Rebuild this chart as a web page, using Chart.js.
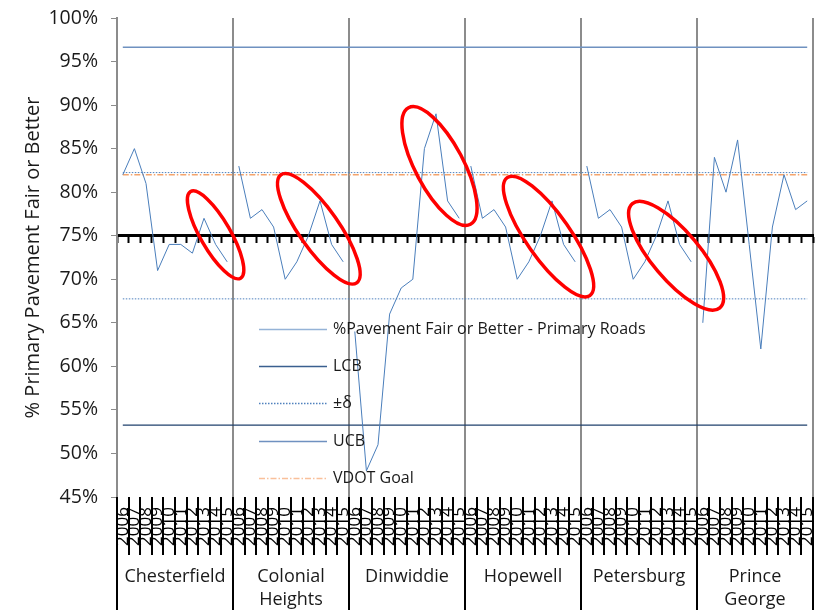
<!DOCTYPE html>
<html>
<head>
<meta charset="utf-8">
<title>Primary Pavement Fair or Better</title>
<script src="https://cdn.jsdelivr.net/npm/chart.js@4.4.1/dist/chart.umd.min.js"></script>
<style>
  html, body { margin: 0; padding: 0; background: #fff; }
</style>
</head>
<body>
<canvas id="ChartPave" width="823" height="610"></canvas>
<script>
// categories
var counties = [['Chesterfield'], ['Colonial', 'Heights'], ['Dinwiddie'], ['Hopewell'], ['Petersburg'], ['Prince', 'George']];
var years = ['2006', '2007', '2008', '2009', '2010', '2011', '2012', '2013', '2014', '2015'];

// % pavement fair or better, primary roads, one list per county
var chesterfield    = [82, 85, 81, 71, 74, 74, 73, 77, 74, 72];
var colonialHeights = [83, 77, 78, 76, 70, 72, 75, 79, 74, 72];
var dinwiddie       = [64, 48, 51, 66, 69, 70, 85, 89, 79, 77];
var hopewell        = [83, 77, 78, 76, 70, 72, 75, 79, 74, 72];
var petersburg      = [83, 77, 78, 76, 70, 72, 75, 79, 74, 72];
var princeGeorge    = [65, 84, 80, 86, 74, 62, 76, 82, 78, 79];

// reference levels
var lcbValue = 53.25;
var ucbValue = 96.65;
var deltaUpper = 82.25;
var deltaLower = 67.75;
var vdotGoal = 82;
var axisCross = 75;

// y axis ticks
var yMin = 45;
var yMax = 100;
var yStep = 5;

var labels = [];
counties.forEach(function(){ labels = labels.concat(years); });
var pavement = [].concat(chesterfield, colonialHeights, dinwiddie, hopewell, petersburg, princeGeorge);
function flat(v) { return labels.map(function(){ return v; }); }

// red circles drawn round the last years (x = category index, y = value)
var circled = [
  { x: 8.0,  y: 75.1, rx: 50, ry: 15, rot: 60 },
  { x: 16.9, y: 75.8, rx: 66, ry: 20, rot: 55 },
  { x: 27.3, y: 83.0, rx: 66, ry: 24, rot: 62 },
  { x: 36.7, y: 74.9, rx: 72, ry: 22, rot: 55 },
  { x: 47.7, y: 72.7, rx: 68, ry: 24, rot: 50 }
];

var textColor = '#1a1a1a';
Chart.defaults.font.family = "'Open Sans', sans-serif";
Chart.defaults.color = textColor;

var ellipsePlugin = {
  id: 'ellipses',
  afterDatasetsDraw: function(chart) {
    var c = chart.ctx, xs = chart.scales.x, ys = chart.scales.y;
    c.save();
    c.strokeStyle = '#ff0000';
    c.lineWidth = 3.5;
    circled.forEach(function(e){
      c.beginPath();
      c.ellipse(xs.getPixelForValue(e.x), ys.getPixelForValue(e.y), e.rx, e.ry, e.rot * Math.PI / 180, 0, Math.PI * 2);
      c.stroke();
    });
    c.restore();
  }
};

var legendPlugin = {
  id: 'innerLegend',
  afterDatasetsDraw: function(chart) {
    var c = chart.ctx;
    var x0 = 259, y0 = 329, step = 37.2;
    c.save();
    c.font = "16px 'Open Sans', sans-serif";
    c.textBaseline = 'middle';
    c.fillStyle = textColor;
    var row = 0;
    chart.data.datasets.forEach(function(ds){
      if (ds.noLegend) return;
      var y = Math.round(y0 + row * step) + 0.5;
      c.beginPath();
      c.strokeStyle = ds.legendColor || ds.borderColor;
      c.lineWidth = Math.max(ds.borderWidth, 1.5);
      c.setLineDash(ds.borderDash || []);
      c.moveTo(x0, y);
      c.lineTo(x0 + 68, y);
      c.stroke();
      c.setLineDash([]);
      c.fillText(ds.label, x0 + 74, y);
      row++;
    });
    c.restore();
  }
};

var countyPlugin = {
  id: 'countyAxis',
  afterDraw: function(chart) {
    var c = chart.ctx, xs = chart.scales.x, area = chart.chartArea;
    c.save();
    c.strokeStyle = '#000';
    c.lineWidth = 2;
    for (var i = 0; i <= labels.length; i++) {
      var bx = Math.round(xs.getPixelForValue(i - 0.5));
      c.beginPath();
      c.moveTo(bx, area.bottom);
      c.lineTo(bx, i % years.length === 0 ? chart.height : area.bottom + 58);
      c.stroke();
    }
    c.font = "18px 'Open Sans', sans-serif";
    c.fillStyle = textColor;
    c.textAlign = 'center';
    c.textBaseline = 'middle';
    counties.forEach(function(name, g){
      var cx = xs.getPixelForValue(g * years.length + (years.length - 1) / 2);
      name.forEach(function(line, k){
        c.fillText(line, cx, area.bottom + 80 + k * 23);
      });
    });
    c.restore();
  }
};

var ctx = document.getElementById('ChartPave').getContext('2d');
var chartPave = new Chart(ctx, {
  type: 'line',
  data: {
    labels: labels,
    datasets: [
      {
        label: '%Pavement Fair or Better - Primary Roads',
        data: pavement,
        borderColor: '#4a7ebb',
        legendColor: '#95b3d7',
        borderWidth: 1,
        pointRadius: 0,
        segment: {
          borderColor: function(s) { return s.p0DataIndex % years.length === years.length - 1 ? 'rgba(0,0,0,0)' : '#4a7ebb'; }
        }
      },
      {
        label: 'LCB',
        data: flat(lcbValue),
        borderColor: '#1f406c',
        legendColor: '#3a5f8f',
        borderWidth: 1.2,
        pointRadius: 0
      },
      {
        label: '\u00b1\u03b4',
        data: flat(deltaUpper),
        borderColor: '#4f81bd',
        borderWidth: 1,
        borderDash: [1.5, 1.5],
        pointRadius: 0
      },
      {
        label: '\u00b1\u03b4',
        noLegend: true,
        data: flat(deltaLower),
        borderColor: '#4f81bd',
        borderWidth: 1,
        borderDash: [1.5, 1.5],
        pointRadius: 0
      },
      {
        label: 'UCB',
        data: flat(ucbValue),
        borderColor: '#6f91c0',
        borderWidth: 1.5,
        pointRadius: 0
      },
      {
        label: 'VDOT Goal',
        data: flat(vdotGoal),
        borderColor: '#f4a46c',
        legendColor: '#f9c09a',
        borderWidth: 1.5,
        borderDash: [6, 2, 1.5, 2],
        pointRadius: 0
      }
    ]
  },
  options: {
    responsive: false,
    animation: false,
    layout: { padding: { top: 18, right: 10, left: 0, bottom: 0 } },
    plugins: {
      legend: { display: false },
      tooltip: { enabled: false }
    },
    scales: {
      x: {
        offset: true,
        afterFit: function(scale) {
          scale.height = 113;
          scale.paddingLeft = 0;
          scale.paddingRight = 0;
        },
        border: { display: false },
        grid: {
          offset: true,
          drawTicks: false,
          lineWidth: 2,
          color: function(c) {
            return (c.index === undefined || c.index % years.length === 0) ? '#8c8c8c' : 'rgba(0,0,0,0)';
          }
        },
        ticks: {
          autoSkip: false,
          minRotation: 90,
          maxRotation: 90,
          padding: 10,
          color: '#000',
          font: { size: 17 }
        }
      },
      xCross: {
        type: 'category',
        position: { y: axisCross },
        offset: true,
        afterFit: function(scale) {
          scale.paddingLeft = 0;
          scale.paddingRight = 0;
        },
        border: { color: '#000', width: 3 },
        grid: {
          offset: true,
          drawOnChartArea: false,
          drawTicks: true,
          tickLength: 6,
          tickWidth: 2,
          tickColor: '#000'
        },
        ticks: { display: false }
      },
      y: {
        min: yMin,
        max: yMax,
        afterFit: function(scale) {
          scale.width = 117;
          scale.paddingTop = 0;
          scale.paddingBottom = 0;
        },
        border: { color: '#8c8c8c', width: 2 },
        grid: {
          drawOnChartArea: false,
          tickLength: 6,
          tickColor: '#8c8c8c'
        },
        ticks: {
          stepSize: yStep,
          padding: 13,
          color: textColor,
          font: { size: 19.5 },
          callback: function(v) { return v + '%'; }
        },
        title: {
          display: true,
          text: '% Primary Pavement Fair or Better',
          color: textColor,
          font: { size: 20 },
          padding: { top: 21, bottom: 0 }
        }
      }
    }
  },
  plugins: [ellipsePlugin, legendPlugin, countyPlugin]
});
</script>
</body>
</html>
